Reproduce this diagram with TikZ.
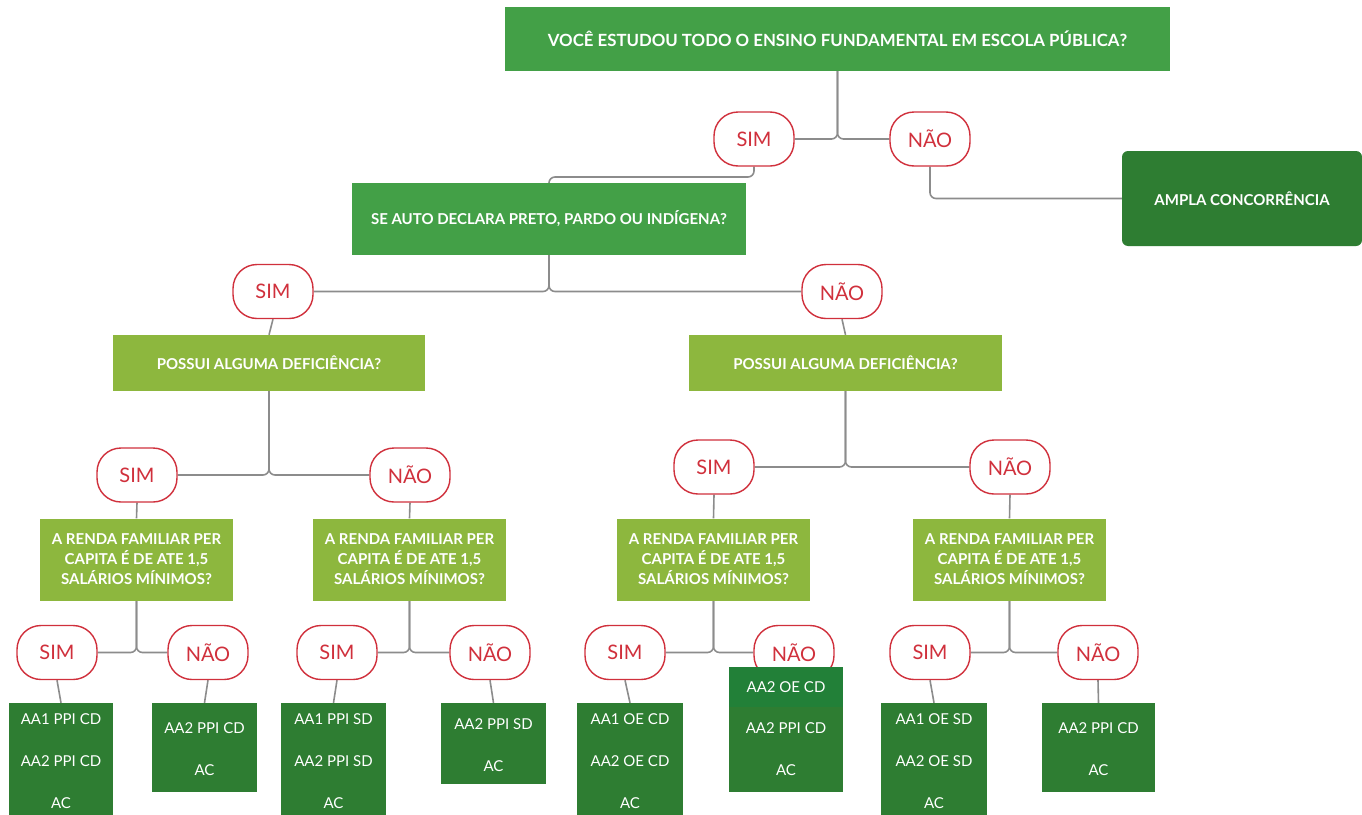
\documentclass[tikz,border=0pt]{standalone}
\usepackage{fontspec}
\setmainfont{Lato}
\usetikzlibrary{backgrounds}
\definecolor{qgreen}{RGB}{67,160,71}
\definecolor{lgreen}{RGB}{141,183,62}
\definecolor{dgreen}{RGB}{46,125,50}
\definecolor{ogreen}{RGB}{34,128,56}
\definecolor{pred}{RGB}{208,48,60}
\definecolor{lgray}{RGB}{140,140,140}
\begin{document}
\begin{tikzpicture}[x=1pt,y=-1pt,
  q/.style={fill=qgreen, text=white, font=\bfseries\fontsize{15}{20}\selectfont, align=center, inner sep=0pt},
  ql/.style={q, fill=lgreen},
  pill/.style={draw=pred, fill=white, line width=1.4pt, rounded corners=24pt, minimum width=80pt, minimum height=54pt, text=pred, font=\fontsize{20}{20}\selectfont, inner sep=0pt},
  res/.style={fill=dgreen, text=white, font=\fontsize{15}{42}\selectfont, align=center, inner sep=0pt},
  conn/.style={draw=lgray, line width=1.6pt, rounded corners=6pt}]
\useasboundingbox (0,0) rectangle (1362,814);
% questions
\node[q, font=\bfseries\fontsize{16.8}{20}\selectfont, minimum width=665pt, minimum height=64pt] (q1) at (837.5,39) {VOCÊ ESTUDOU TODO O ENSINO FUNDAMENTAL EM ESCOLA PÚBLICA?};
\node[pill] (s1) at (754,139) {SIM};
\node[pill] (n1) at (930,139) {NÃO};
\node[q, fill=dgreen, rounded corners=6pt, minimum width=240pt, minimum height=95pt] (amp) at (1242,198.5) {AMPLA CONCORRÊNCIA};
\node[q, minimum width=394pt, minimum height=72pt] (q2) at (549,219) {SE AUTO DECLARA PRETO, PARDO OU INDÍGENA?};
\node[pill] (s2) at (273,291.5) {SIM};
\node[pill] (n2) at (842,291.5) {NÃO};
\node[ql, minimum width=312pt, minimum height=56pt] (q3l) at (269,363) {POSSUI ALGUMA DEFICIÊNCIA?};
\node[ql, minimum width=313pt, minimum height=56pt] (q3r) at (845.5,363) {POSSUI ALGUMA DEFICIÊNCIA?};
\node[pill] (s3) at (137,475) {SIM};
\node[pill] (n3) at (410,475) {NÃO};
\node[pill] (s4) at (714,467) {SIM};
\node[pill] (n4) at (1010,467) {NÃO};
\node[ql, minimum width=193pt, minimum height=82pt] (q4a) at (136.5,559.5) {A RENDA FAMILIAR PER\\CAPITA É DE ATE 1,5\\SALÁRIOS MÍNIMOS?};
\node[ql, minimum width=193pt, minimum height=82pt] (q4b) at (409.5,559.5) {A RENDA FAMILIAR PER\\CAPITA É DE ATE 1,5\\SALÁRIOS MÍNIMOS?};
\node[ql, minimum width=193pt, minimum height=82pt] (q4c) at (713.5,559.5) {A RENDA FAMILIAR PER\\CAPITA É DE ATE 1,5\\SALÁRIOS MÍNIMOS?};
\node[ql, minimum width=193pt, minimum height=82pt] (q4d) at (1009.5,559.5) {A RENDA FAMILIAR PER\\CAPITA É DE ATE 1,5\\SALÁRIOS MÍNIMOS?};
\node[pill] (s5) at (57,652.5) {SIM};
\node[pill] (n5) at (208,652.5) {NÃO};
\node[pill] (s6) at (337,652.5) {SIM};
\node[pill] (n6) at (490,652.5) {NÃO};
\node[pill] (s7) at (625,652.5) {SIM};
\node[pill] (n7) at (794,652.5) {NÃO};
\node[pill] (s8) at (930,652.5) {SIM};
\node[pill] (n8) at (1098,652.5) {NÃO};
% results
\node[res, minimum width=104pt, minimum height=116pt] (r1) at (61,761) {AA1 PPI CD\\AA2 PPI CD\\AC};
\node[res, minimum width=105pt, minimum height=89pt] (r2) at (204.5,747.5) {\rule{0pt}{14.8pt}AA2 PPI CD\\AC};
\node[res, minimum width=105pt, minimum height=116pt] (r3) at (333.5,761) {AA1 PPI SD\\AA2 PPI SD\\AC};
\node[res, minimum width=105pt, minimum height=81pt] (r4) at (493.5,743.5) {\rule{0pt}{14.8pt}AA2 PPI SD\\AC};
\node[res, minimum width=106pt, minimum height=116pt] (r5) at (630,761) {AA1 OE CD\\AA2 OE CD\\AC};
\node[res, minimum width=114pt, minimum height=85pt] (r6) at (786,749.5) {AA2 PPI CD\\AC};
\node[res, fill=ogreen, minimum width=114pt, minimum height=40pt] (r6o) at (786,687) {AA2 OE CD};
\node[res, minimum width=106pt, minimum height=116pt] (r7) at (934,761) {AA1 OE SD\\AA2 OE SD\\AC};
\node[res, minimum width=113pt, minimum height=89pt] (r8) at (1098.5,747.5) {\rule{0pt}{14.8pt}AA2 PPI CD\\AC};
\coordinate (j1) at (549,177);
\begin{scope}[on background layer]
\fill[white] (0,0) rectangle (1362,814);
\draw[conn] (q1.south) |- (s1.east);
\draw[conn] (q1.south) |- (n1.west);
\draw[conn] (s1.south) |- (j1) -- (q2.north);
\draw[conn] (n1.south) |- (amp.west);
\draw[conn] (q2.south) |- (s2.east);
\draw[conn] (q2.south) |- (n2.west);
\draw[conn] (s2.south) -- (q3l.north);
\draw[conn] (n2.south) -- (q3r.north);
\draw[conn] (q3l.south) |- (s3.east);
\draw[conn] (q3l.south) |- (n3.west);
\draw[conn] (q3r.south) |- (s4.east);
\draw[conn] (q3r.south) |- (n4.west);
\draw[conn] (s3.south) -- (q4a.north);
\draw[conn] (n3.south) -- (q4b.north);
\draw[conn] (s4.south) -- (q4c.north);
\draw[conn] (n4.south) -- (q4d.north);
\draw[conn] (q4a.south) |- (s5.east);
\draw[conn] (q4a.south) |- (n5.west);
\draw[conn] (q4b.south) |- (s6.east);
\draw[conn] (q4b.south) |- (n6.west);
\draw[conn] (q4c.south) |- (s7.east);
\draw[conn] (q4c.south) |- (n7.west);
\draw[conn] (q4d.south) |- (s8.east);
\draw[conn] (q4d.south) |- (n8.west);
\draw[conn] (s5.south) -- (r1.north);
\draw[conn] (n5.south) -- (r2.north);
\draw[conn] (s6.south) -- (r3.north);
\draw[conn] (n6.south) -- (r4.north);
\draw[conn] (s7.south) -- (r5.north);
\draw[conn] (n7.south) -- (r6o.north);
\draw[conn] (s8.south) -- (r7.north);
\draw[conn] (n8.south) -- (r8.north);
\end{scope}
\end{tikzpicture}
\end{document}
